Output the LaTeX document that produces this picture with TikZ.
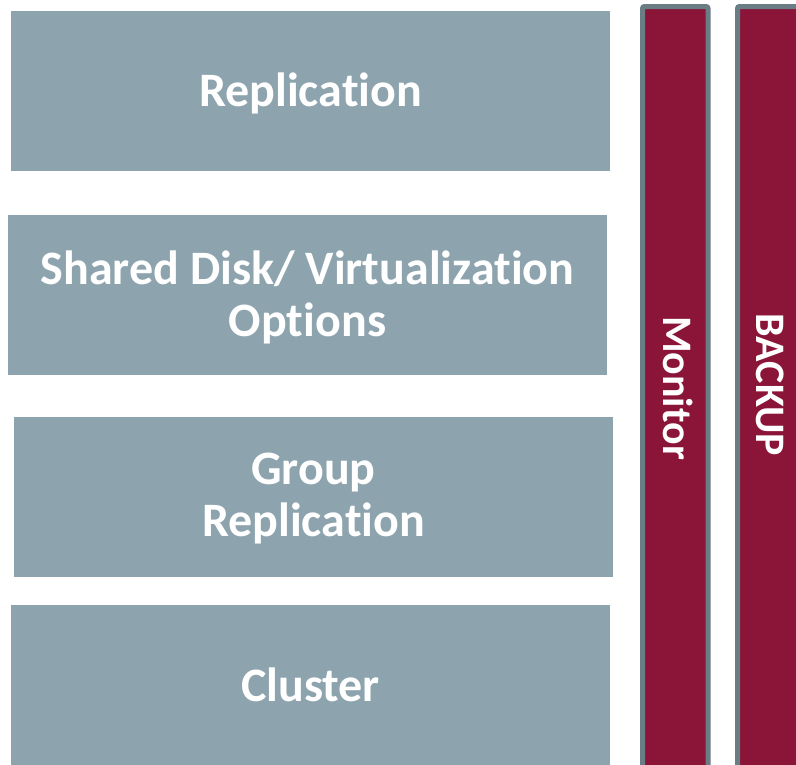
\documentclass[tikz,border=0pt]{standalone}
\usepackage{fontspec}
\setmainfont[Ligatures={NoCommon}]{Carlito}
\definecolor{boxgray}{HTML}{8DA4AF}
\definecolor{barred}{HTML}{8A1538}
\definecolor{bargray}{HTML}{6A7D85}
\begin{document}
\begin{tikzpicture}[x=1pt,y=-1pt,
  layer/.style={fill=boxgray,draw=none,text=white,font=\fontsize{48}{52}\selectfont\bfseries,align=center},
  bar/.style={fill=barred,draw=bargray,line width=5pt,rounded corners=2pt},
  bartext/.style={text=white,font=\fontsize{42}{46}\selectfont\bfseries,rotate=-90}]
\useasboundingbox (0,0) rectangle (796,764);
\fill[layer] (11,11) rectangle (610,171);
\node[layer] (rep) at (310.5,93) {Replication};
\fill[layer] (8,215) rectangle (607,375);
\node[layer] (sd) at (307.5,297) {Shared Disk/ Virtualization\\Options};
\fill[layer] (14,417) rectangle (613,577);
\node[layer] (gr) at (313.5,499) {Group\\Replication};
\fill[layer] (11,605) rectangle (610,770);
\node[layer] (cl) at (310.5,685) {Cluster};
\draw[bar] (642.5,6.5) rectangle (708,780);
\draw[bar] (737.5,6.5) rectangle (810,780);
\node[bartext] (mon) at (678,388) {Monitor};
\node[bartext] (bk) at (770,385) {BACKUP};
\end{tikzpicture}
\end{document}
